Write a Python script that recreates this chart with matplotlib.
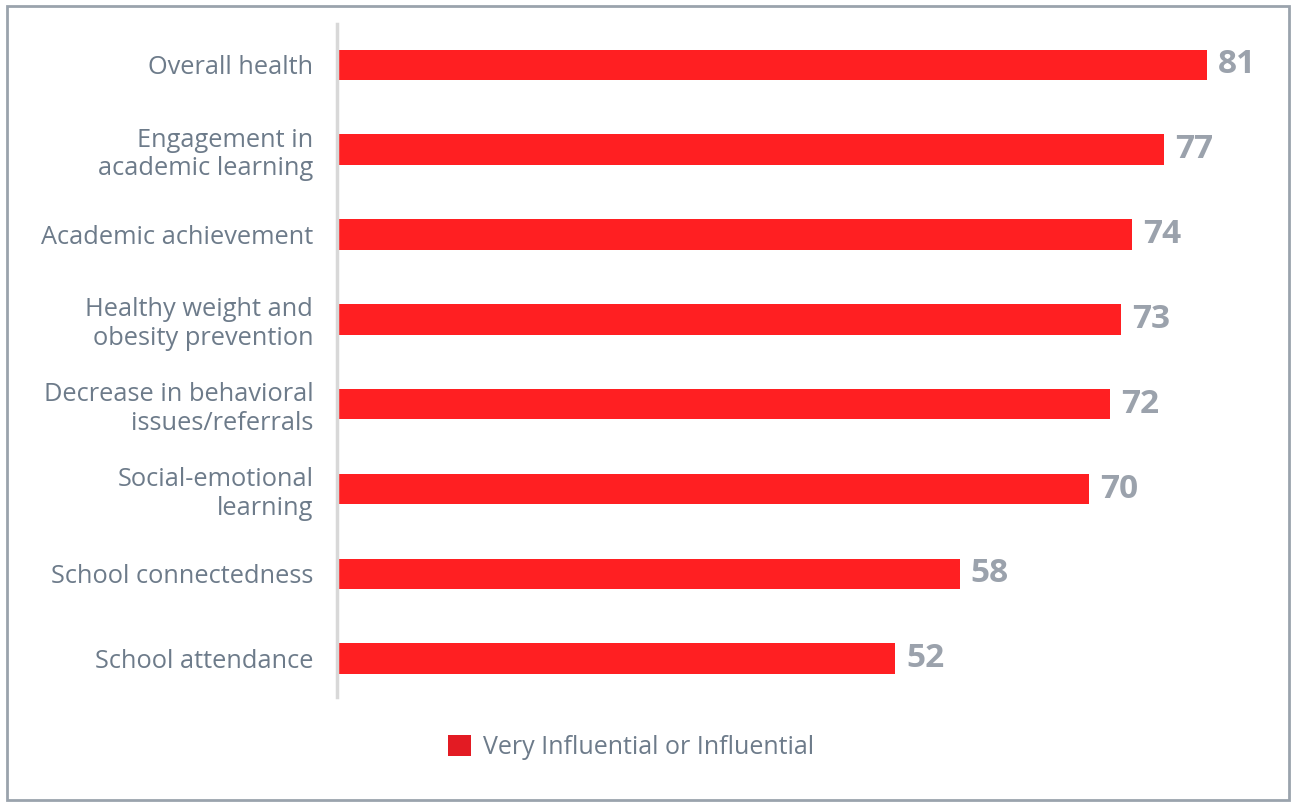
import matplotlib
matplotlib.use("Agg")
import matplotlib.pyplot as plt
from matplotlib.patches import Rectangle, Patch

categories = [
    "Overall health",
    "Engagement in\nacademic learning",
    "Academic achievement",
    "Healthy weight and\nobesity prevention",
    "Decrease in behavioral\nissues/referrals",
    "Social-emotional\nlearning",
    "School connectedness",
    "School attendance",
]
values = [81, 77, 74, 73, 72, 70, 58, 52]
series_name = "Very Influential or Influential"

BAR_COLOR = "#FF1F22"
LEGEND_COLOR = "#E31B23"
LABEL_GRAY = "#6D7B8A"
VALUE_GRAY = "#9BA2AC"

plt.rcParams["font.family"] = ["Open Sans", "DejaVu Sans"]

fig = plt.figure(figsize=(12.91, 8.02), dpi=100)
ax = fig.add_axes([0.261, 0.131, 0.707, 0.839])

pos = list(range(len(categories)))
ax.barh(pos, values, height=0.36, color=BAR_COLOR, edgecolor="none")

for p, v in zip(pos, values):
    ax.annotate(str(v), xy=(v, p), xytext=(8, 0), textcoords="offset points",
                ha="left", va="center", fontsize=24, fontweight="bold",
                color=VALUE_GRAY)

ax.set_xlim(0, 85)
ax.set_ylim(7.45, -0.48)
ax.set_yticks(pos)
ax.set_yticklabels(categories, fontsize=18.3, color=LABEL_GRAY, linespacing=1.2)
ax.tick_params(axis="y", length=0, pad=17)
ax.set_xticks([])

for s in ["top", "right", "bottom"]:
    ax.spines[s].set_visible(False)
ax.spines["left"].set_color("#D8D8D8")
ax.spines["left"].set_linewidth(2.5)

handle = Patch(facecolor=LEGEND_COLOR, edgecolor="none")
fig.legend([handle], [series_name], loc="center", bbox_to_anchor=(0.489, 0.068),
           frameon=False, fontsize=18, labelcolor=LABEL_GRAY,
           handlelength=0.9, handleheight=0.9, handletextpad=0.5)

# outer frame around the whole graphic
fig.patches.append(Rectangle((0.0055, 0.002), 0.993, 0.99, transform=fig.transFigure,
                             fill=False, edgecolor="#9AA3AD", linewidth=2))

fig.savefig("out.png", dpi=100, facecolor="white")
